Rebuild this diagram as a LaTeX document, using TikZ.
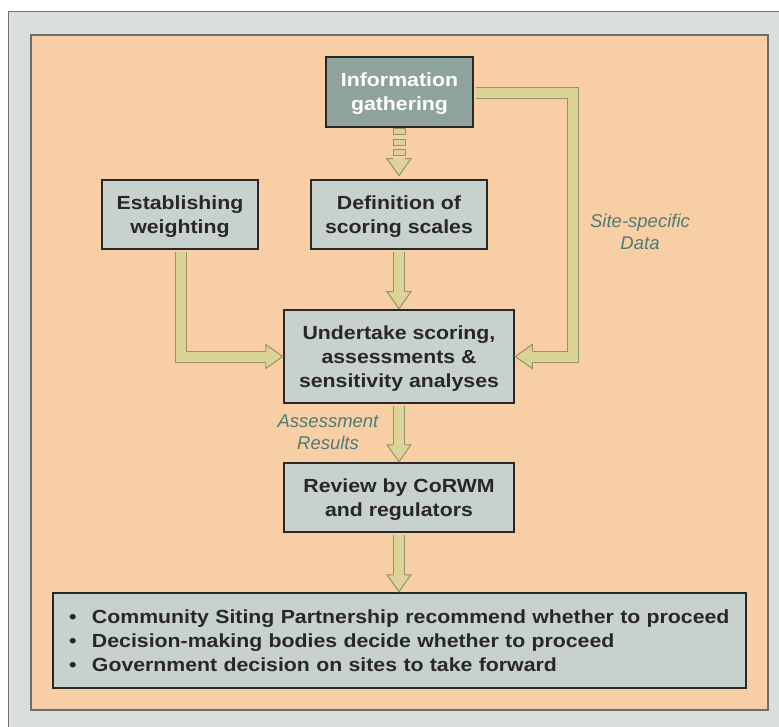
\documentclass[tikz,border=0pt]{standalone}
\usepackage{fontspec}
\setmainfont{Liberation Sans}
\newfontfamily\boxfont{Liberation Sans}[FakeStretch=1.12]
\usepackage{tikz}
\usetikzlibrary{calc}

\definecolor{outerbg}{HTML}{D9DFDD}
\definecolor{panel}{HTML}{F8CFA5}
\definecolor{boxfill}{HTML}{C7D1CE}
\definecolor{infofill}{HTML}{8FA39E}
\definecolor{boxedge}{HTML}{2A2727}
\definecolor{arrowfill}{HTML}{DCD396}
\definecolor{arrowedge}{HTML}{96916E}
\definecolor{notecol}{HTML}{4E7B76}

\tikzset{
  listbox/.style={draw=boxedge, line width=2.5pt, fill=boxfill, text=boxedge, align=center, inner sep=0pt,
    font=\boxfont\bfseries\fontsize{19}{24}\selectfont},
  box/.style={listbox, text depth=0pt},
  note/.style={text=notecol, align=center, font=\itshape\fontsize{18.5}{22}\selectfont},
  fatshaft/.style={draw=arrowedge, line width=1pt, double=arrowfill, double distance=10pt, line join=miter},
  headdown/.pic={
    \fill[arrowfill] (0,0) -- (-12,-17) -- (12,-17) -- cycle;
    \draw[arrowedge, line width=1pt, line join=miter] (-6,-17) -- (-12,-17) -- (0,0) -- (12,-17) -- (6,-17);
  },
  dashbox/.style={draw=arrowedge, line width=1pt, fill=arrowfill}
}

\begin{document}
\begin{tikzpicture}[x=1pt,y=-1pt]
\useasboundingbox (0,0) rectangle (779,727);
\clip (0,0) rectangle (779,727);
%\draw[step=50,gray,very thin] (0,0) grid (779,727);

% frames
\fill[white] (0,0) rectangle (779,727);
\draw[fill=outerbg, draw=gray!90!black, line width=1pt] (8,12) rectangle (800,750);
\draw[fill=panel, draw=gray!85!black, line width=1.2pt] (31,35) rectangle (768,710);

% boxes
\node[box, fill=infofill, text=white, minimum width=147pt, minimum height=70pt] (info) at (399.5,92) {Information\\gathering};
\node[box, minimum width=156pt, minimum height=69pt] (weight) at (180,214.5) {Establishing\\weighting};
\node[box, minimum width=176pt, minimum height=69pt] (defn) at (399,214.5) {Definition of\\scoring scales};
\node[box, minimum width=230pt, minimum height=93pt] (assess) at (399,356.5) {Undertake scoring,\\assessments \&\\sensitivity analyses};
\node[box, minimum width=230pt, minimum height=69pt] (review) at (399,497.5) {Review by CoRWM\\and regulators};
\node[listbox, minimum width=693pt, minimum height=95pt, text width=661pt, align=left] (decide) at (399.5,640.5)
  {\makebox[23pt][l]{\textbullet}Community Siting Partnership recommend whether to proceed\\
   \makebox[23pt][l]{\textbullet}Decision-making bodies decide whether to proceed\\
   \makebox[23pt][l]{\textbullet}Government decision on sites to take forward};

% shafts
\draw[fatshaft] ([xshift=1pt,yshift=-1.3pt]weight.south) |- ([xshift=-16pt]assess.west);
\draw[fatshaft] ([xshift=1.3pt,yshift=-1pt]info.east) -| ([xshift=99pt]info.east |- assess.east) -- ([xshift=16pt]assess.east);
\draw[fatshaft] ([yshift=-1.3pt]defn.south) -- ([yshift=16pt]assess.north);
\draw[fatshaft] ([yshift=-1.3pt]assess.south) -- ([yshift=16pt]review.north);
\draw[fatshaft] ([yshift=-1.3pt]review.south) -- ([yshift=16pt]review.south |- decide.north);
\foreach \k in {0,1,2}
  \draw[dashbox] ([xshift=-6pt,yshift=-0.5pt-\k*10.5pt]info.south) rectangle ++(12,6);

% heads
\pic at ([yshift=3pt]defn.north) {headdown};
\pic at (assess.north) {headdown};
\pic at (review.north) {headdown};
\pic at (review.south |- decide.north) {headdown};
\pic[rotate=90] at (assess.west) {headdown};
\pic[rotate=-90] at (assess.east) {headdown};

% labels
\node[note] (sitedata) at (640,232) {Site-specific\\Data};
\node[note] (results) at (328,432) {Assessment\\Results};
\end{tikzpicture}
\end{document}
